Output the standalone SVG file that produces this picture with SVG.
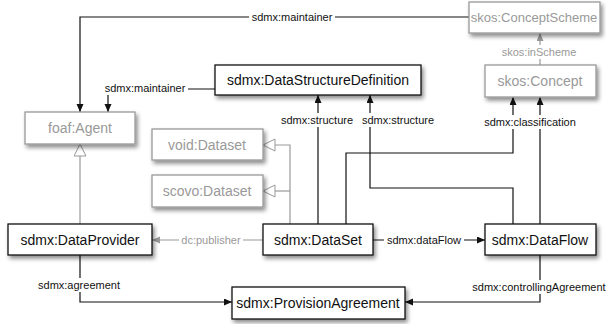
<svg xmlns="http://www.w3.org/2000/svg" width="606" height="324" viewBox="0 0 606 324">
<defs>
<filter id="sh" x="-20%" y="-30%" width="140%" height="180%">
<feDropShadow dx="2" dy="3" stdDeviation="2" flood-color="#000" flood-opacity="0.45"/>
</filter>
<marker id="ab" markerUnits="userSpaceOnUse" markerWidth="9" markerHeight="8" refX="8" refY="3.5" orient="auto"><path d="M0,0 L8,3.5 L0,7 z" fill="#111"/></marker>
<marker id="ag" markerUnits="userSpaceOnUse" markerWidth="9" markerHeight="8" refX="8" refY="3.5" orient="auto"><path d="M0,0 L8,3.5 L0,7 z" fill="#999"/></marker>
<marker id="gen" markerUnits="userSpaceOnUse" markerWidth="14" markerHeight="14" refX="12.5" refY="6.5" orient="auto"><path d="M0.5,0.5 L12.5,6.5 L0.5,12.5 z" fill="#fff" stroke="#999" stroke-width="1"/></marker>
</defs>
<style>
.nb{fill:#fff;stroke:#111;stroke-width:1.3;filter:url(#sh)}
.ng{fill:#fff;stroke:#999;stroke-width:1.3;filter:url(#sh)}
.tb{font-family:"Liberation Sans",Arial,sans-serif;font-size:14px;fill:#111;text-anchor:middle}
.tg{font-family:"Liberation Sans",Arial,sans-serif;font-size:14px;fill:#999;text-anchor:middle}
.eb{fill:none;stroke:#111;stroke-width:1.2}
.eg{fill:none;stroke:#999;stroke-width:1.2}
.lb{font-family:"Liberation Sans",Arial,sans-serif;font-size:11px;fill:#111;text-anchor:middle}
.lg{font-family:"Liberation Sans",Arial,sans-serif;font-size:11px;fill:#999;text-anchor:middle}
.bg{fill:#fff}
</style>
<rect width="606" height="324" fill="#fff"/>
<g id="connectors">
<path class="eb" d="M469,17 H80 V112" marker-end="url(#ab)"/>
<path class="eb" d="M215,89 H108 V112" marker-end="url(#ab)"/>
<path class="eb" d="M318,224 V95" marker-end="url(#ab)"/>
<path class="eb" d="M513,224 V188 H370 V95" marker-end="url(#ab)"/>
<path class="eb" d="M346,224 V153 H513 V97" marker-end="url(#ab)"/>
<path class="eb" d="M540,224 V97" marker-end="url(#ab)"/>
<path class="eg" d="M540,65 V33" marker-end="url(#ag)"/>
<path class="eg" d="M80,224 V144" marker-end="url(#gen)"/>
<path class="eg" d="M290,224 V145 H263" marker-end="url(#gen)"/>
<path class="eg" d="M290,191 H263" marker-end="url(#gen)"/>
<path class="eg" d="M263,240 H152" marker-end="url(#ag)"/>
<path class="eb" d="M373,240 H485" marker-end="url(#ab)"/>
<path class="eb" d="M80,255 V302 H232" marker-end="url(#ab)"/>
<path class="eb" d="M540,255 V302 H405" marker-end="url(#ab)"/>
<rect class="bg" x="249" y="10" width="86" height="14"/>
<text class="lb" x="292" y="21">sdmx:maintainer</text>
<rect class="bg" x="102" y="81" width="86" height="14"/>
<text class="lb" x="145" y="92">sdmx:maintainer</text>
<rect class="bg" x="279" y="113" width="76" height="14"/>
<text class="lb" x="317" y="124">sdmx:structure</text>
<rect class="bg" x="360" y="113" width="76" height="14"/>
<text class="lb" x="398" y="124">sdmx:structure</text>
<rect class="bg" x="484" y="115" width="92" height="14"/>
<text class="lb" x="530" y="126">sdmx:classification</text>
<rect class="bg" x="500" y="45" width="78" height="14"/>
<text class="lg" x="539" y="56">skos:inScheme</text>
<rect class="bg" x="179" y="233" width="64" height="14"/>
<text class="lg" x="211" y="244">dc:publisher</text>
<rect class="bg" x="384" y="233" width="80" height="14"/>
<text class="lb" x="424" y="244">sdmx:dataFlow</text>
<rect class="bg" x="36" y="278" width="86" height="14"/>
<text class="lb" x="79" y="289">sdmx:agreement</text>
<rect class="bg" x="471" y="280" width="135" height="14"/>
<text class="lb" x="539" y="291">sdmx:controllingAgreement</text>
</g>
<g id="conceptScheme"><rect class="ng" x="469" y="2" width="131" height="31"/><text class="tg" x="534" y="22" style="font-size:13px">skos:ConceptScheme</text></g>
<g id="dsd"><rect class="nb" x="215" y="65" width="206" height="30"/><text class="tb" x="318" y="85">sdmx:DataStructureDefinition</text></g>
<g id="concept"><rect class="ng" x="485" y="65" width="111" height="32"/><text class="tg" x="540" y="86">skos:Concept</text></g>
<g id="agent"><rect class="ng" x="25" y="112" width="110" height="32"/><text class="tg" x="80" y="133">foaf:Agent</text></g>
<g id="voidDataset"><rect class="ng" x="152" y="129" width="111" height="31"/><text class="tg" x="207" y="150">void:Dataset</text></g>
<g id="scovoDataset"><rect class="ng" x="152" y="175" width="111" height="32"/><text class="tg" x="207" y="196">scovo:Dataset</text></g>
<g id="dataProvider"><rect class="nb" x="8" y="224" width="144" height="31"/><text class="tb" x="80" y="245">sdmx:DataProvider</text></g>
<g id="dataSet"><rect class="nb" x="263" y="224" width="110" height="31"/><text class="tb" x="318" y="245">sdmx:DataSet</text></g>
<g id="dataFlow"><rect class="nb" x="485" y="224" width="111" height="31"/><text class="tb" x="540" y="245">sdmx:DataFlow</text></g>
<g id="provisionAgreement"><rect class="nb" x="232" y="287" width="173" height="32"/><text class="tb" x="318" y="308">sdmx:ProvisionAgreement</text></g>
</svg>
